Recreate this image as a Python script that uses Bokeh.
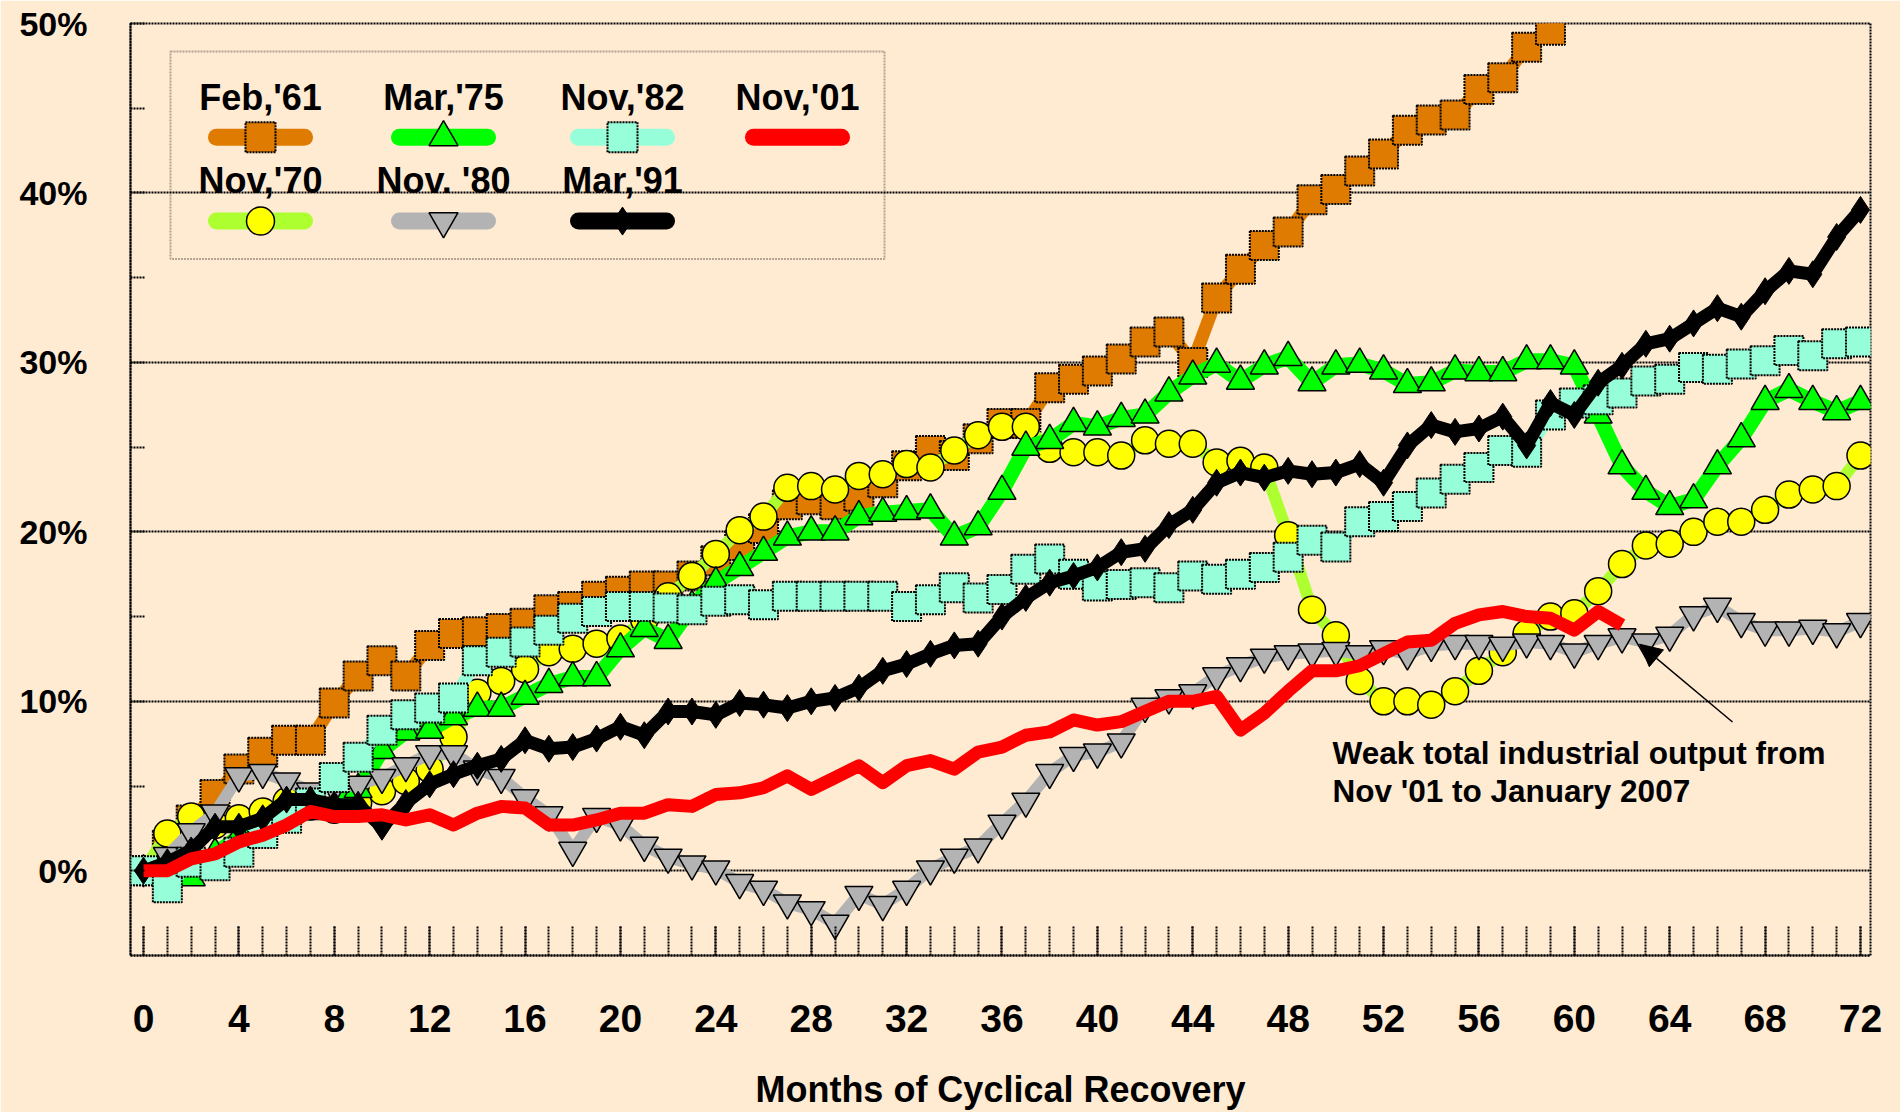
from bokeh.plotting import figure
from bokeh.models import (Range1d, FixedTicker, PrintfTickFormatter, BoxAnnotation,
                          Label, Arrow, NormalHead)
from bokeh.core.properties import value
from bokeh.embed import file_html
from bokeh.resources import INLINE

# ---------------- data (percent change since trough, by month of recovery) ----------------
months = list(range(73))
x_ticks = list(range(0, 73, 4))
y_ticks = [0, 10, 20, 30, 40, 50]

feb_61 = [0, 1.5, 3.0, 4.5, 6.0, 7.0, 7.7, 7.7, 9.9, 11.5,
          12.4, 11.5, 13.3, 14.0, 14.1, 14.3, 14.6, 15.4, 15.6, 16.2,
          16.5, 16.8, 16.8, 17.4, 18.3, 19.2, 20.2, 21.6, 21.9, 21.6,
          22.1, 22.9, 23.9, 24.8, 24.5, 25.5, 26.4, 26.4, 28.5, 29.0,
          29.5, 30.2, 31.2, 31.8, 30.0, 33.8, 35.5, 36.9, 37.7, 39.6,
          40.2, 41.3, 42.3, 43.7, 44.3, 44.6, 46.1, 46.8, 48.6, 49.6,
          51.5]

nov_70 = [0, 2.2, 3.2, 2.7, 3.1, 3.5, 4.1, 3.8, 3.6, 4.0,
          4.7, 5.3, 6.0, 7.9, 10.5, 11.2, 11.9, 12.9, 13.1, 13.4,
          13.7, 14.8, 16.2, 17.4, 18.7, 20.1, 20.9, 22.6, 22.7, 22.5,
          23.3, 23.4, 24.0, 23.8, 24.8, 25.7, 26.2, 26.2, 24.9, 24.7,
          24.7, 24.5, 25.4, 25.2, 25.2, 24.1, 24.2, 23.8, 19.8, 15.4,
          13.9, 11.2, 10.0, 10.0, 9.8, 10.6, 11.8, 12.9, 14.0, 15.0,
          15.2, 16.5, 18.1, 19.2, 19.3, 20.0, 20.6, 20.6, 21.3, 22.2,
          22.5, 22.7, 24.5]

mar_75 = [0, -0.3, -0.4, 1.0, 2.0, 2.6, 3.3, 3.5, 3.7, 4.8,
          7.1, 8.2, 8.3, 9.1, 9.6, 9.6, 10.3, 11.0, 11.4, 11.4,
          13.1, 14.3, 13.6, 15.6, 17.0, 17.9, 18.8, 19.7, 20.0, 20.0,
          20.9, 21.1, 21.2, 21.3, 19.7, 20.3, 22.4, 25.0, 25.4, 26.4,
          26.2, 26.7, 26.9, 28.2, 29.2, 29.9, 28.9, 29.8, 30.3, 28.8,
          29.8, 29.9, 29.5, 28.7, 28.8, 29.5, 29.4, 29.4, 30.1, 30.1,
          29.8, 26.9, 23.9, 22.4, 21.5, 21.9, 23.9, 25.5, 27.7, 28.4,
          27.7, 27.1, 27.7]

nov_80 = [0, 0.9, 2.3, 3.4, 5.6, 5.8, 5.3, 4.7, 4.9, 5.1,
          5.5, 6.2, 6.9, 6.9, 6.0, 5.5, 4.3, 3.3, 1.2, 3.2,
          2.7, 1.5, 0.8, 0.4, 0.1, -0.7, -1.1, -1.9, -2.3, -3.1,
          -1.4, -2.0, -1.1, 0.1, 0.8, 1.4, 2.8, 4.1, 5.8, 6.8,
          7.0, 7.6, 9.7, 10.2, 10.5, 11.5, 12.1, 12.6, 12.8, 12.9,
          13.0, 12.8, 13.1, 12.8, 13.3, 13.4, 13.4, 13.3, 13.5, 13.4,
          12.9, 13.4, 13.8, 13.5, 13.9, 15.1, 15.6, 14.7, 14.2, 14.2,
          14.3, 14.1, 14.7]

nov_82 = [0, -1.0, 0.5, 0.3, 1.1, 2.2, 3.1, 4.0, 5.5, 6.7,
          8.3, 9.2, 9.6, 10.2, 12.4, 12.9, 13.5, 14.2, 14.9, 15.3,
          15.6, 15.6, 15.5, 15.4, 15.9, 16.0, 15.7, 16.2, 16.2, 16.2,
          16.2, 16.2, 15.6, 16.0, 16.7, 16.1, 16.6, 17.8, 18.4, 17.5,
          16.8, 16.9, 17.0, 16.7, 17.4, 17.2, 17.5, 17.9, 18.5, 19.5,
          19.1, 20.6, 20.9, 21.5, 22.3, 23.1, 23.8, 24.8, 24.7, 26.9,
          27.6, 27.8, 28.2, 28.9, 29.0, 29.7, 29.6, 29.9, 30.1, 30.7,
          30.4, 31.1, 31.2]

mar_91 = [0, 0.5, 1.2, 2.6, 2.6, 3.1, 4.2, 4.2, 3.9, 3.9,
          2.6, 4.0, 5.1, 5.7, 6.2, 6.6, 7.7, 7.2, 7.3, 7.8,
          8.5, 8.0, 9.4, 9.4, 9.2, 9.9, 9.8, 9.6, 10.0, 10.2,
          10.8, 11.8, 12.2, 12.8, 13.3, 13.4, 15.0, 16.1, 17.0, 17.4,
          17.9, 18.8, 19.0, 20.4, 21.3, 22.9, 23.5, 23.2, 23.6, 23.4,
          23.5, 24.0, 22.9, 25.1, 26.3, 25.9, 26.1, 26.8, 25.1, 27.6,
          26.9, 28.8, 29.8, 31.1, 31.4, 32.3, 33.2, 32.7, 34.2, 35.4,
          35.2, 37.4, 39.0]

nov_01 = [0, 0, 0.7, 1.0, 1.7, 2.1, 2.7, 3.5, 3.2, 3.2,
          3.3, 3.0, 3.3, 2.7, 3.4, 3.8, 3.7, 2.7, 2.7, 3.0,
          3.4, 3.4, 3.9, 3.8, 4.5, 4.6, 4.9, 5.6, 4.8, 5.5,
          6.2, 5.2, 6.2, 6.5, 6.0, 7.0, 7.3, 8.0, 8.2, 8.9,
          8.6, 8.8, 9.4, 10.0, 10.0, 10.3, 8.3, 9.3, 10.6, 11.8,
          11.8, 12.1, 12.8, 13.5, 13.6, 14.6, 15.1, 15.3, 15.0, 14.9,
          14.2, 15.3, 14.5]

# ---------------- styling ----------------
BG = "#FFEAD2"
ORANGE = "#DF7B00"
GREEN = "#00FF00"
AQUA = "#96FFD9"
RED = "#FF0000"
YGREEN = "#ADFF2F"
YELLOW = "#FFFF00"
GRAY = "#B3B3B3"
BLACK = "#000000"
FONT = "Liberation Sans"

series = [
    dict(name="Feb,'61", y=feb_61, color=ORANGE, lw=13, marker="square", size=29,
         fill=ORANGE, mdash="2 1", mlw=2),
    dict(name="Nov,'70", y=nov_70, color=YGREEN, lw=12, marker="circle", size=27,
         fill=YELLOW, mdash="solid", mlw=1.5),
    dict(name="Mar,'75", y=mar_75, color=GREEN, lw=15, marker="triangle", size=28,
         fill=GREEN, mdash="solid", mlw=1.5),
    dict(name="Nov. '80", y=nov_80, color=GRAY, lw=12, marker="inverted_triangle", size=28,
         fill=GRAY, mdash="solid", mlw=1.5),
    dict(name="Nov,'82", y=nov_82, color=AQUA, lw=12, marker="square", size=29,
         fill=AQUA, mdash="2 1", mlw=2),
    dict(name="Mar,'91", y=mar_91, color=BLACK, lw=13, marker="diamond", size=27,
         fill=BLACK, mdash="solid", mlw=1),
    dict(name="Nov,'01", y=nov_01, color=RED, lw=13, marker=None, size=0,
         fill=RED, mdash="solid", mlw=1),
]

# ---------------- layout helpers (pixel layout -> data space) ----------------
W, H = 1900, 1112
FL, FR, FT, FB = 130, 1870, 23, 957
X0, X1 = -0.545, 72.42
Y0, Y1 = -5, 50


def dx(px):
    return X0 + (px - FL) * (X1 - X0) / (FR - FL)


def dy(py):
    return Y1 - (py - FT) * (Y1 - Y0) / (FB - FT)


p = figure(width=W, height=H, x_range=Range1d(X0, X1), y_range=Range1d(Y0, Y1),
           output_backend="svg", toolbar_location=None,
           min_border_left=FL, min_border_right=W - FR,
           min_border_top=FT, min_border_bottom=H - FB)
p.background_fill_color = BG
p.border_fill_color = BG
p.outline_line_color = "black"
p.outline_line_width = 2
p.outline_line_dash = "2 1"

# axes
p.xaxis.ticker = FixedTicker(ticks=x_ticks, minor_ticks=months)
p.yaxis.ticker = FixedTicker(ticks=y_ticks, minor_ticks=[5, 15, 25, 35, 45])
p.yaxis.formatter = PrintfTickFormatter(format="%d%%")
for ax in (p.xaxis, p.yaxis):
    ax.major_label_text_font = FONT
    ax.major_label_text_font_style = "bold"
    ax.major_label_text_color = "black"
    ax.axis_line_color = "black"
    ax.axis_line_width = 2
    ax.axis_line_dash = "2 1"
    ax.major_tick_out = 0
    ax.minor_tick_out = 0
    ax.major_tick_line_color = "black"
    ax.minor_tick_line_color = "black"
    ax.major_tick_line_width = 2
    ax.minor_tick_line_width = 2
    ax.major_tick_line_dash = "2 1"
    ax.minor_tick_line_dash = "2 1"

p.xaxis.major_label_text_font_size = "39px"
p.yaxis.major_label_text_font_size = "34px"

p.xaxis.major_tick_in = 29
p.xaxis.minor_tick_in = 29
p.xaxis.major_label_standoff = 49
p.xaxis.axis_label = "Months of Cyclical Recovery"
p.xaxis.axis_label_text_font = FONT
p.xaxis.axis_label_text_font_style = "bold"
p.xaxis.axis_label_text_font_size = "36px"
p.xaxis.axis_label_text_color = "black"
p.xaxis.axis_label_standoff = 34

p.yaxis.major_tick_in = 15
p.yaxis.minor_tick_in = 15
p.yaxis.major_label_standoff = 43

p.xgrid.grid_line_color = None
p.ygrid.ticker = FixedTicker(ticks=y_ticks)
p.ygrid.grid_line_color = "black"
p.ygrid.grid_line_width = 2
p.ygrid.grid_line_dash = "2 1"

# series
for s in series:
    xs = months[:len(s["y"])]
    p.line(xs, s["y"], line_color=s["color"], line_width=s["lw"], line_join="round")
    if s["marker"]:
        p.scatter(xs, s["y"], marker=s["marker"], size=s["size"], fill_color=s["fill"],
                  line_color="black", line_width=s["mlw"], line_dash=s["mdash"])

# legend (label above sample, 4 columns x 2 rows)
p.add_layout(BoxAnnotation(left=dx(170), right=dx(884), top=dy(51), bottom=dy(259),
                           fill_color=BG, fill_alpha=0.0, line_color="black",
                           line_width=2, line_dash="2 1"))
legend_cols = [260, 443, 622, 797]
legend_rows = [(97, 137), (180, 221)]
legend_order = [["Feb,'61", "Mar,'75", "Nov,'82", "Nov,'01"],
                ["Nov,'70", "Nov. '80", "Mar,'91"]]
by_name = {s["name"]: s for s in series}
for r, names in enumerate(legend_order):
    ty, gy = legend_rows[r]
    for c, nm in enumerate(names):
        s = by_name[nm]
        cx = legend_cols[c]
        p.text([dx(cx)], [dy(ty)], text=[nm], text_align="center", text_baseline="middle",
               text_font=value(FONT), text_font_style="bold", text_font_size="36px",
               text_color="black")
        p.line([dx(cx - 44), dx(cx + 44)], [dy(gy), dy(gy)], line_color=s["color"],
               line_width=17, line_cap="round")
        if s["marker"]:
            p.scatter([dx(cx)], [dy(gy)], marker=s["marker"], size=s["size"] + 1,
                      fill_color=s["fill"], line_color="black", line_width=s["mlw"],
                      line_dash=s["mdash"])

# annotation
p.add_layout(Arrow(end=NormalHead(size=22, fill_color="black", line_color="black"),
                   x_start=dx(1732), y_start=dy(723), x_end=dx(1639), y_end=dy(645),
                   line_color="black", line_width=1.5))
for i, line in enumerate(["Weak total industrial output from", "Nov '01 to January 2007"]):
    p.add_layout(Label(x=dx(1332), y=dy(736 + 38 * i), text=line, text_baseline="top",
                       text_align="left", text_font=FONT, text_font_style="bold",
                       text_font_size="31.5px", text_color="black"))

open("out.html", "w").write(file_html(p, INLINE))
